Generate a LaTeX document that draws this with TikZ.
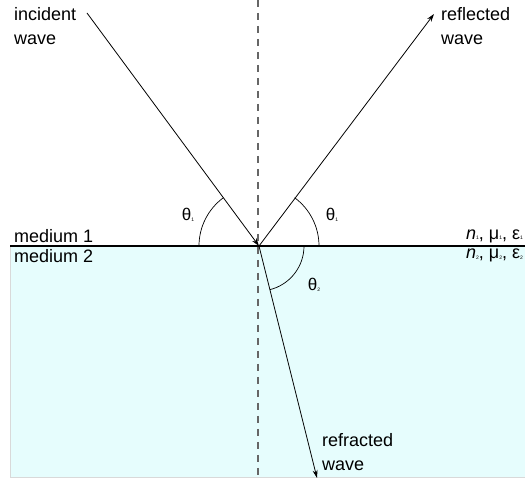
\documentclass[tikz,border=0pt]{standalone}
\usepackage{fontspec}
\setmainfont{Liberation Sans}
\usetikzlibrary{arrows.meta}
\definecolor{wasser}{RGB}{230,253,253}
\tikzset{
    welle/.style   = {-{Stealth[length=8pt,width=5pt]}, line width=0.8pt},
    winkel/.style  = {line width=0.7pt},
    lot/.style     = {draw=black!60, line width=1.3pt, dash pattern=on 7pt off 6pt},
    grenze/.style  = {line width=1.8pt},
    beschr/.style  = {font=\fontsize{18}{24}\selectfont, align=left, inner sep=0pt},
    stoff/.style   = {font=\fontsize{18}{21}\selectfont, inner sep=0pt, anchor=west},
    theta/.style   = {font=\fontsize{17}{17}\selectfont, inner sep=0pt}
}
\newcommand{\idx}[1]{\raisebox{-0.5pt}{\fontsize{5}{5}\selectfont #1}}

\begin{document}
\begin{tikzpicture}[x=1pt, y=1pt]
    \useasboundingbox (0,0) rectangle (525,482);

    % Medium 2
    \fill[wasser] (10,5) rectangle (525,236);
    \draw[black!15, line width=0.8pt] (10,236) -- (10,5) -- (525,5);

    % Punkte
    \coordinate (O)    at (259,236);
    \coordinate (ein)  at (87,469);
    \coordinate (aus)  at (434,468);
    \coordinate (bre)  at (317,4);
    \coordinate (lotA) at (258,482);
    \coordinate (lotB) at (258,7);
    \coordinate (gl)   at (10,236);
    \coordinate (gr)   at (525,236);

    % Lot
    \draw[lot] (lotA) -- (lotB);

    % Grenzflaeche
    \draw[grenze] (gl) -- (gr);

    % Wellen
    \draw[welle] (ein) -- (O);
    \draw[welle] (O) -- (aus);
    \draw[welle] (O) -- (bre);

    % Winkel
    \draw[winkel] ([shift={(180:60)}]O) arc[start angle=180, end angle=126.4, radius=60];
    \draw[winkel] ([shift={(0:60)}]O) arc[start angle=0, end angle=53.6, radius=60];
    \draw[winkel] ([shift={(0:45)}]O) arc[start angle=0, end angle=-76, radius=45];

    \node[theta] (th1l) at (188,267) {θ\idx{1}};
    \node[theta] (th1r) at (332,267) {θ\idx{1}};
    \node[theta] (th2)  at (314,197) {θ\idx{2}};

    % Beschriftung
    \node[beschr, anchor=north west] (einT) at (14,475) {incident\\wave};
    \node[beschr, anchor=north west] (ausT) at (441,475) {reflected\\wave};
    \node[beschr, anchor=west]       (breT) at (322,30) {refracted\\wave};

    \node[stoff, anchor=south west] (m1) at (14,239) {medium 1};
    \node[stoff, anchor=north west] (m2) at (14,233) {medium 2};
    \node[stoff, anchor=south west] (p1) at (466,239) {\textit{n}\idx{1}, μ\idx{1}, ε\idx{1}};
    \node[stoff, anchor=north west] (p2) at (466,233) {\textit{n}\idx{2}, μ\idx{2}, ε\idx{2}};
\end{tikzpicture}
\end{document}
